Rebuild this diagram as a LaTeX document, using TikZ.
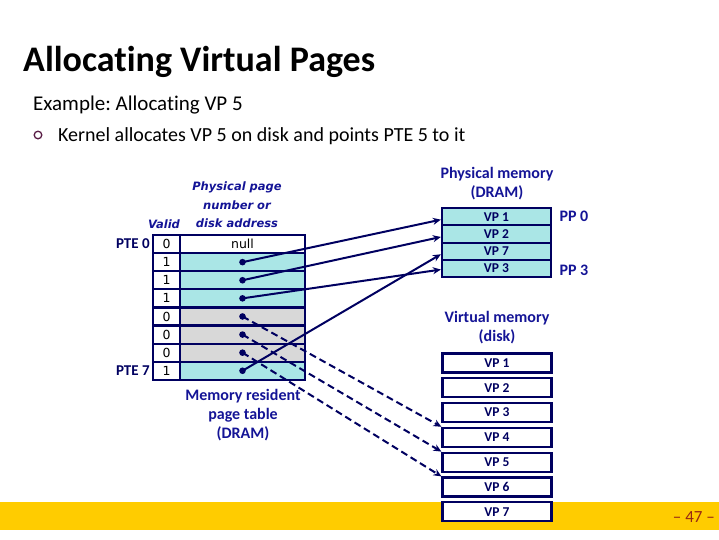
\documentclass[tikz,border=0pt]{standalone}
\usepackage{fontspec}
\setmainfont{Carlito}[RawFeature=-liga]
\newfontfamily\tah{DejaVu Sans}
\usetikzlibrary{arrows.meta}
\definecolor{navy}{RGB}{0,0,96}
\definecolor{tblue}{RGB}{20,20,150}
\definecolor{cyanf}{RGB}{170,230,230}
\definecolor{grayf}{RGB}{216,216,216}
\definecolor{barcol}{RGB}{255,204,0}
\definecolor{pnum}{RGB}{150,40,20}
\definecolor{bul}{RGB}{90,30,70}
\frenchspacing
\begin{document}
\begin{tikzpicture}[x=1pt,y=-1pt,
  cellv/.style={draw=navy,line width=2.2pt,fill=white,minimum width=27pt,minimum height=18.1pt,inner sep=0pt,font=\tah\fontsize{12.5}{14}\selectfont},
  cella/.style={draw=navy,line width=2.2pt,minimum width=125pt,minimum height=18.1pt,inner sep=0pt,font=\tah\fontsize{12.5}{14}\selectfont},
  pmbox/.style={draw=navy,line width=2.2pt,fill=cyanf,minimum width=109pt,minimum height=17.3pt,inner sep=0pt,font=\bfseries\fontsize{13.5}{15}\selectfont,text=navy},
  dkbox/.style={draw=navy,line width=2.2pt,fill=white,minimum width=109pt,minimum height=19pt,inner sep=0pt,font=\bfseries\fontsize{13.5}{15}\selectfont,text=navy},
  lbl/.style={text=tblue,font=\bfseries\fontsize{16}{19}\selectfont,align=center},
  arr/.style={draw=navy,line width=2pt,-{Stealth[length=8pt,width=7pt]}},
  darr/.style={arr,dash pattern=on 7pt off 4pt}
]
\useasboundingbox (0,0) rectangle (719,539);
\fill[barcol] (0,502) rectangle (719,530);
\node[anchor=base east,text=pnum,font=\fontsize{17}{19}\selectfont,inner sep=0pt] (pg) at (715,522) {-- 47 --};

\node[anchor=base west,font=\bfseries\fontsize{36}{40}\selectfont,inner sep=0pt] (title) at (23,71) {Allocating Virtual Pages};
\node[anchor=base west,font=\fontsize{21}{24}\selectfont,inner sep=0pt] (ex) at (33,110) {Example: Allocating VP 5};
\draw[bul,line width=1.3pt] (38,135) circle (3.8);
\node[anchor=base west,font=\fontsize{20}{22}\selectfont,inner sep=0pt] (kern) at (58,141) {Kernel allocates VP 5 on disk and points PTE 5 to it};

% page table
\foreach \v/\c [count=\i from 0] in {0/white,1/cyanf,1/cyanf,1/cyanf,0/grayf,0/grayf,0/grayf,1/cyanf}{
  \node[cella,fill=\c] (a\i) at (242.5,{244.05+18.1*\i}) {};
  \node[cellv] (v\i) at (166.5,{244.05+18.1*\i}) {\v};
}
\node[font=\tah\fontsize{12.5}{14}\selectfont] at (a0) {null};
\foreach \i in {1,...,7}{\fill[navy] (a\i.center) circle (3.3);}
\node[text=tblue,font=\tah\bfseries\itshape\fontsize{11.5}{18.5}\selectfont,align=center] (hdr) at (237,205) {Physical page\\number or\\disk address};
\node[text=tblue,font=\tah\bfseries\itshape\fontsize{11.5}{13}\selectfont] (valid) at (164,224) {Valid};
\node[anchor=east,text=navy,font=\bfseries\fontsize{15}{17}\selectfont,inner sep=2pt] (pte0) at (v0.west) {PTE 0};
\node[anchor=east,text=navy,font=\bfseries\fontsize{15}{17}\selectfont,inner sep=2pt] (pte7) at (v7.west) {PTE 7};
\node[lbl] (mrpt) at (243,415) {Memory resident\\page table\\(DRAM)};

% physical memory
\node[lbl] (pmt) at (497,184) {Physical memory\\(DRAM)};
\foreach \t [count=\i from 0] in {VP 1,VP 2,VP 7,VP 3}{
  \node[pmbox] (p\i) at (496.5,{216.65+17.3*\i}) {\t};
}
\node[lbl,anchor=west] (pp0) at (556,216) {PP 0};
\node[lbl,anchor=west] (pp3) at (556,270) {PP 3};

% disk
\node[lbl] (vmt) at (497,328) {Virtual memory\\(disk)};
\foreach \i in {1,...,7}{
  \node[dkbox] (d\i) at (497,{363+24.8*(\i-1)}) {VP \i};
}

% arrows
\coordinate (e1) at ([yshift=-3pt]p0.west);
\coordinate (e2) at ([yshift=-3pt]p1.west);
\coordinate (e7) at ([yshift=-3pt]p2.west);
\coordinate (e3) at ([yshift=-1pt]p3.west);
\draw[arr] (a1.center) -- (e1);
\draw[arr] (a2.center) -- (e2);
\draw[arr] (a3.center) -- (e3);
\draw[arr] (a7.center) -- (e7);
\draw[darr] (a4.center) -- (d4.north west);
\draw[darr] (a5.center) -- (d5.north west);
\draw[darr] (a6.center) -- (d6.north west);
\end{tikzpicture}
\end{document}
